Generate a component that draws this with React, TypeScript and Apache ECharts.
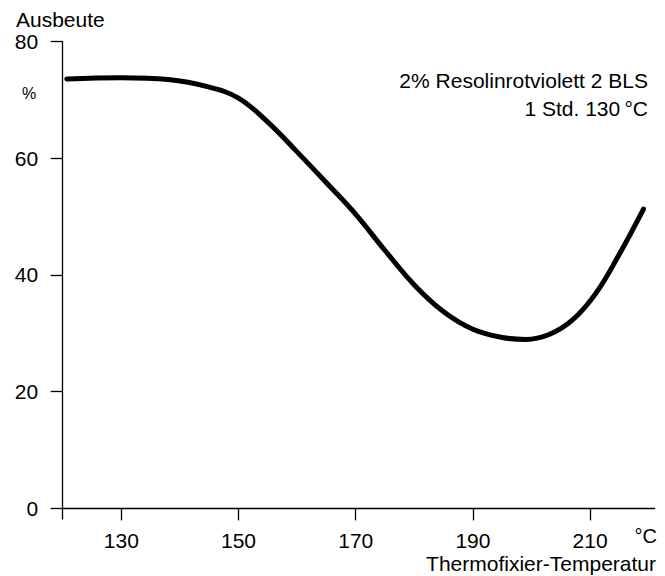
import React, { useEffect, useRef } from "react";
import * as echarts from "echarts";

const temperatures = [120.7, 130, 138, 145, 150, 155, 160, 165, 170, 175, 180, 185, 190, 195, 199, 203, 207, 211, 215, 219.1];
const yields = [73.6, 73.8, 73.5, 72.2, 70.3, 66.2, 61.1, 55.8, 50.4, 44.2, 38.3, 33.7, 30.7, 29.3, 28.95, 29.8, 32.3, 36.9, 43.6, 51.3];
const xTickValues = [130, 150, 170, 190, 210];
const yTickValues = [0, 20, 40, 60, 80];
const yAxisTitle = "Ausbeute";
const yUnit = "%";
const xUnit = "°C";
const xAxisTitle = "Thermofixier-Temperatur";
const noteLines = ["2% Resolinrotviolett 2 BLS", "1 Std. 130\u2009°C"];

const FONT = "'Liberation Sans', Arial, Helvetica, sans-serif";

export default function App() {
  const ref = useRef<HTMLDivElement>(null);
  useEffect(() => {
    if (!ref.current) return;
    const chart = echarts.init(ref.current, undefined, { renderer: "svg" });
    const data = temperatures.map((t, i) => [t, yields[i]]);
    chart.setOption({
      animation: false,
      backgroundColor: "#fff",
      grid: { left: 62.7, right: 10.4, top: 41.6, bottom: 57.1, outerBoundsMode: "none", containLabel: false },
      xAxis: {
        type: "value",
        min: 120,
        max: 221,
        axisLine: { show: true, onZero: true, lineStyle: { color: "#000", width: 1.3 } },
        axisTick: { show: true, length: 12, customValues: xTickValues, lineStyle: { color: "#000", width: 1.3 } },
        axisLabel: { customValues: xTickValues, margin: 11, color: "#000", fontSize: 21, fontFamily: FONT },
        splitLine: { show: false },
      },
      yAxis: {
        type: "value",
        min: -1.8,
        max: 80,
        axisLine: { show: true, lineStyle: { color: "#000", width: 1.3 } },
        axisTick: { show: true, length: 12, customValues: yTickValues, lineStyle: { color: "#000", width: 1.3 } },
        axisLabel: { customValues: yTickValues, margin: 24.5, color: "#000", fontSize: 21, fontFamily: FONT },
        splitLine: { show: false },
      },
      graphic: [
        { type: "text", left: 16, top: 9, style: { text: yAxisTitle, fill: "#000", font: `21px ${FONT}` } },
        { type: "text", x: 29, y: 93, style: { text: yUnit, fill: "#000", font: `16px ${FONT}`, align: "center", verticalAlign: "middle" } },
        { type: "text", x: 648, y: 80, style: { text: noteLines[0], fill: "#000", font: `21px ${FONT}`, align: "right", verticalAlign: "middle" } },
        { type: "text", x: 648, y: 108.5, style: { text: noteLines[1], fill: "#000", font: `21px ${FONT}`, align: "right", verticalAlign: "middle" } },
        { type: "text", x: 657, y: 536, style: { text: xUnit, fill: "#000", font: `20px ${FONT}`, align: "right", verticalAlign: "middle" } },
        { type: "text", x: 656, y: 563, style: { text: xAxisTitle, fill: "#000", font: `21px ${FONT}`, align: "right", verticalAlign: "middle" } },
      ],
      series: [
        {
          type: "line",
          data,
          smooth: 0.4,
          showSymbol: false,
          symbol: "none",
          clip: false,
          lineStyle: { color: "#000", width: 5, cap: "round", join: "round" },
        },
      ],
    });
    return () => chart.dispose();
  }, []);
  return <div ref={ref} style={{ position: "fixed", left: 0, top: 0, width: 665, height: 576 }} />;
}
